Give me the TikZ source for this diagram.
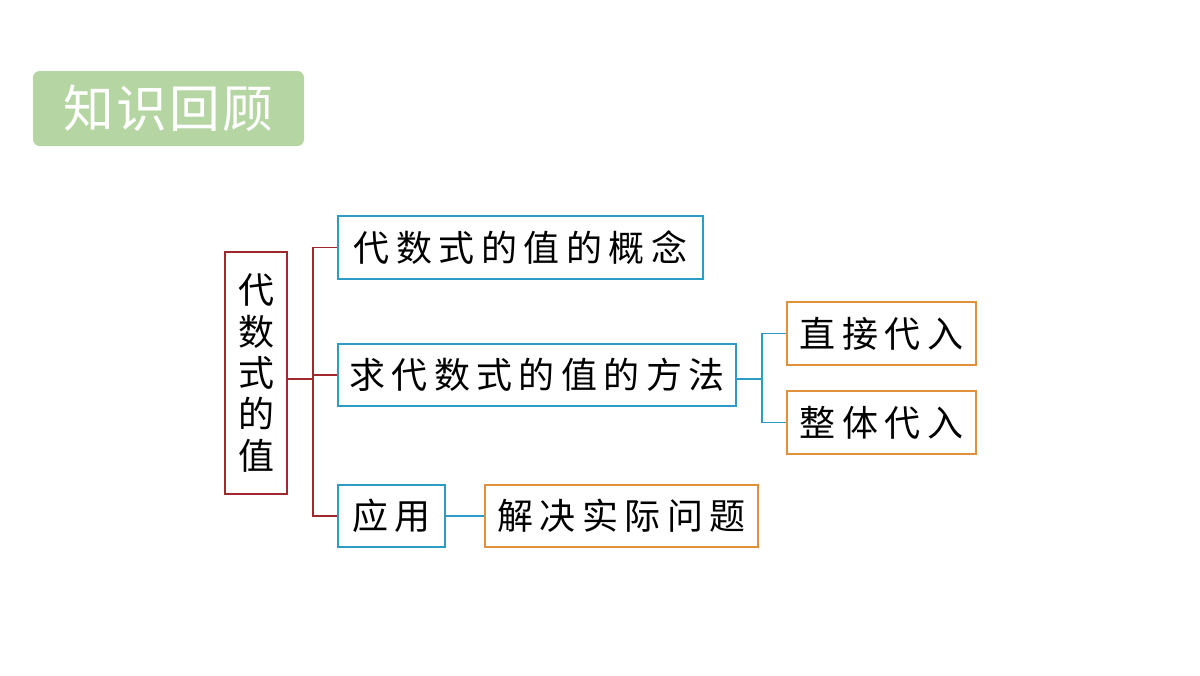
\documentclass[tikz,border=0pt]{standalone}
\usepackage{fontspec}
\setmainfont{Noto Sans CJK SC}
\begin{document}
\begin{tikzpicture}[x=0.75pt,y=-0.75pt,
  bx/.style={draw=#1,line width=1.3pt,inner sep=0pt,font=\fontsize{27}{30}\selectfont\addfontfeature{LetterSpace=18}},
  lk/.style={draw=#1,line width=1.3pt}]
\definecolor{tg}{HTML}{B5D5A3}
\definecolor{rd}{HTML}{A3282E}
\definecolor{bl}{HTML}{2E9AC6}
\definecolor{og}{HTML}{E0913A}
\useasboundingbox (0,0) rectangle (1200,675);
\node[fill=tg,rounded corners=5pt,minimum width=271*0.75pt,minimum height=75*0.75pt,text=white,font=\fontsize{38}{40}\selectfont\addfontfeature{LetterSpace=5}] (t) at (168.5,108.5) {知识回顾};
\node[bx=rd,minimum width=62*0.75pt,minimum height=242*0.75pt,align=center,font=\fontsize{27}{31}\selectfont] (r) at (256,373) {代\\数\\式\\的\\值};
\node[bx=bl,minimum width=365*0.75pt,minimum height=63*0.75pt] (a) at (520.5,247.5) {代数式的值的概念};
\node[bx=bl,minimum width=398*0.75pt,minimum height=62*0.75pt] (b) at (537,375) {求代数式的值的方法};
\node[bx=bl,minimum width=107*0.75pt,minimum height=62*0.75pt] (c) at (391.5,516) {应用};
\node[bx=og,minimum width=189*0.75pt,minimum height=63*0.75pt] (d) at (881.5,333.5) {直接代入};
\node[bx=og,minimum width=189*0.75pt,minimum height=63*0.75pt] (e) at (881.5,422.5) {整体代入};
\node[bx=og,minimum width=273*0.75pt,minimum height=62*0.75pt] (f) at (621.5,516) {解决实际问题};
\coordinate (j) at (313,379);
\draw[lk=rd] (r.east |- j) -- (j);
\draw[lk=rd] (a.west) -| (j) |- (c.west);
\draw[lk=rd] (j) |- (b.west);
\coordinate (k) at (762,379);
\draw[lk=bl] (b.east |- k) -- (k);
\draw[lk=bl] (d.west) -| (k) |- (e.west);
\draw[lk=bl] (c.east) -- (f.west);
\end{tikzpicture}
\end{document}
